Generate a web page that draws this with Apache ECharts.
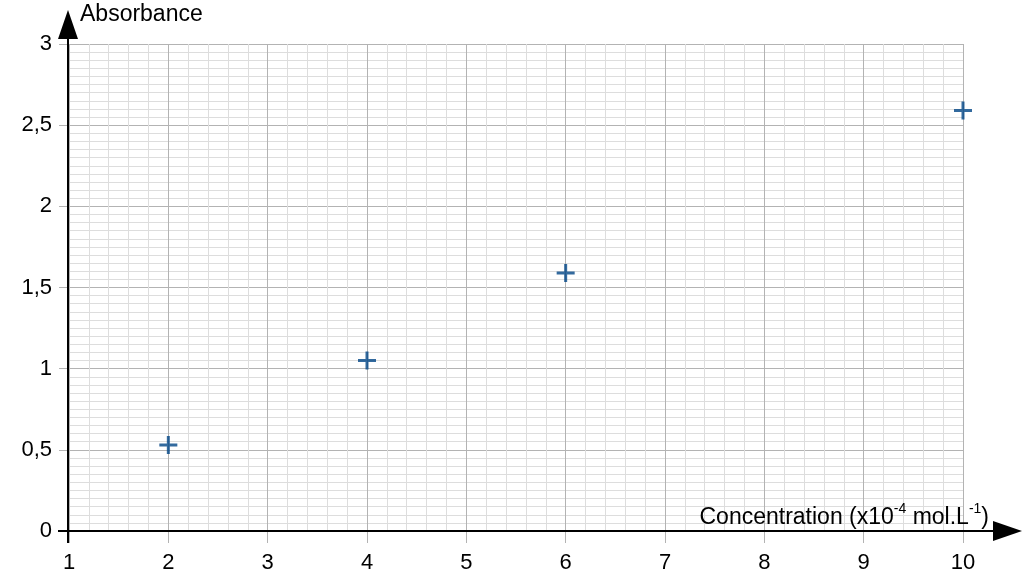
<!DOCTYPE html>
<html><head><meta charset="utf-8">
<script src="https://cdn.jsdelivr.net/npm/echarts@6/dist/echarts.min.js"></script>
<style>html,body{margin:0;padding:0;background:#fff}#c{width:1024px;height:586px}</style>
</head><body><div id="c"></div>
<script>
const concentration = [2, 4, 6, 10];
const absorbance = [0.53, 1.05, 1.59, 2.59];
const xTickLabels = ['1','2','3','4','5','6','7','8','9','10'];
const yTickLabels = ['0','0,5','1','1,5','2','2,5','3'];
const yName = 'Absorbance';
const xNameParts = ['Concentration (x10', '-4', ' mol.L', '-1', ')'];

const FONT = 'Liberation Sans';
const chart = echarts.init(document.getElementById('c'), null, {renderer: 'canvas'});
const majorColor = '#b3b3b3', minorColor = '#dddddd';
const plus = 'path://M7.5,0 h3 v7.5 h7.5 v3 h-7.5 v7.5 h-3 v-7.5 h-7.5 v-3 h7.5 z';

chart.setOption({
  animation: false,
  backgroundColor: '#ffffff',
  grid: {left: 69, right: 61, top: 44, bottom: 55, containLabel: false},
  xAxis: {
    type: 'value', min: 1, max: 10, interval: 1,
    axisLine: {show: false},
    axisTick: {show: true, length: 12, lineStyle: {color: majorColor, width: 1}},
    minorTick: {show: false, splitNumber: 5},
    splitLine: {show: true, lineStyle: {color: majorColor, width: 1}},
    minorSplitLine: {show: true, lineStyle: {color: minorColor, width: 1}},
    axisLabel: {margin: 21, color: '#000', fontFamily: FONT, fontSize: 22,
      formatter: v => xTickLabels[Math.round(v) - 1]}
  },
  yAxis: {
    type: 'value', min: 0, max: 3, interval: 0.5,
    axisLine: {show: false},
    axisTick: {show: true, length: 10, lineStyle: {color: majorColor, width: 1}},
    minorTick: {show: false, splitNumber: 10},
    splitLine: {show: true, lineStyle: {color: majorColor, width: 1}},
    minorSplitLine: {show: true, lineStyle: {color: minorColor, width: 1}},
    axisLabel: {margin: 17, color: '#000', fontFamily: FONT, fontSize: 22,
      formatter: v => yTickLabels[Math.round(v / 0.5)]}
  },
  series: [{
    type: 'scatter',
    data: concentration.map((c, i) => [c, absorbance[i]]),
    symbol: plus, symbolSize: 18,
    itemStyle: {color: '#004586'}
  }]
});

const o = chart.convertToPixel({gridIndex: 0}, [1, 0]);
const t = chart.convertToPixel({gridIndex: 0}, [10, 3]);
const ax = o[0] - 1;
chart.setOption({
  graphic: [
    {type: 'line', shape: {x1: ax, y1: o[1] + 12, x2: ax, y2: t[1] - 8},
      style: {stroke: '#000', lineWidth: 2}, z: 100},
    {type: 'polygon', shape: {points: [[ax, 10], [ax - 10, 39], [ax + 10, 39]]},
      style: {fill: '#000'}, z: 100},
    {type: 'line', shape: {x1: ax - 10, y1: o[1], x2: 996, y2: o[1]},
      style: {stroke: '#000', lineWidth: 2}, z: 100},
    {type: 'polygon', shape: {points: [[1022, o[1]], [993, o[1] - 10], [993, o[1] + 10]]},
      style: {fill: '#000'}, z: 100},
    {type: 'text', left: 80, top: 3, z: 100,
      style: {text: yName, fill: '#000', font: '23px "' + FONT + '"'}},
    {type: 'text', right: 1024 - 989, top: 502, z: 100,
      style: {
        text: '{a|' + xNameParts[0] + '}{s|' + xNameParts[1] + '}{a|' + xNameParts[2] + '}{s|' + xNameParts[3] + '}{a|' + xNameParts[4] + '}',
        rich: {
          a: {fontFamily: FONT, fontSize: 23, fill: '#000', lineHeight: 27, verticalAlign: 'bottom'},
          s: {fontFamily: FONT, fontSize: 14, fill: '#000', lineHeight: 17, verticalAlign: 'top'}
        }
      }}
  ]
});
</script></body></html>
